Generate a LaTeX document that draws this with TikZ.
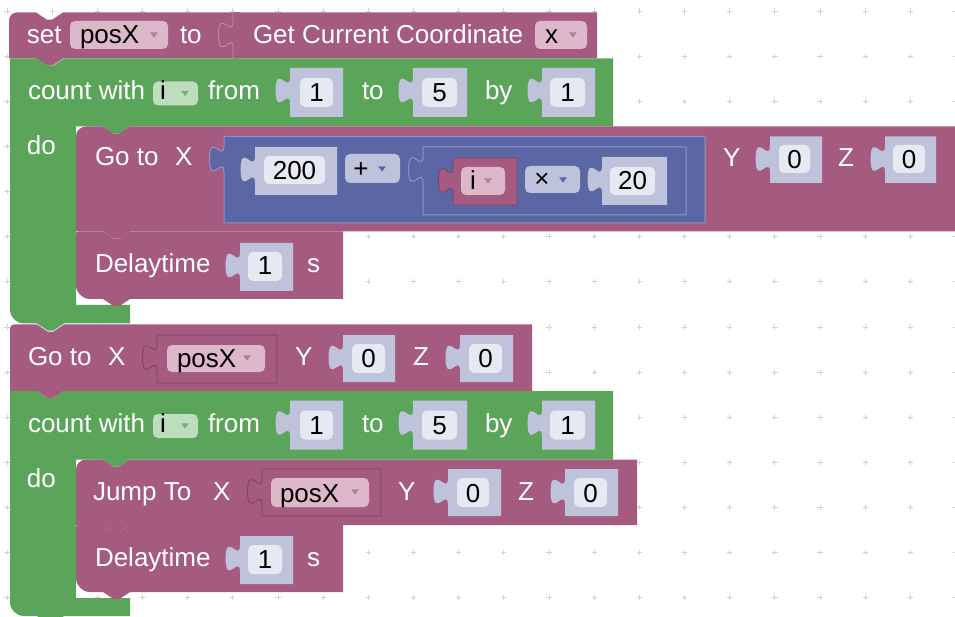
\documentclass[tikz,border=0pt]{standalone}
\usepackage{fontspec}
\setmainfont{Liberation Sans}
\usetikzlibrary{calc}

\definecolor{maroon}{HTML}{A55B80}
\definecolor{maroonhi}{HTML}{C58CA8}
\definecolor{maroondk}{HTML}{7F3F60}
\definecolor{loopgreen}{HTML}{5BA55B}
\definecolor{greenfield}{HTML}{BEDCBE}
\definecolor{mathblue}{HTML}{5B67A5}
\definecolor{bluehi}{HTML}{8C95C8}
\definecolor{slate}{HTML}{BEC2DB}
\definecolor{fieldwhite}{HTML}{E7E9F2}
\definecolor{pinkfield}{HTML}{DDB8CA}
\definecolor{pinkarrow}{HTML}{B7799A}
\definecolor{greenarrow}{HTML}{6FB46F}
\definecolor{gridc}{HTML}{D2D2D2}

\newcommand\bkfont{\fontsize{26}{30}\selectfont}

% statement block: left, top, right, bottom, top-left radius, bottom-left radius, fill
\newcommand\bkStmt[7]{%
  \fill[#7] (#1,{#2+#5}) .. controls (#1,{#2+0.45*#5}) and ({#1+0.45*#5},#2) .. ({#1+#5},#2)
    -- ({#1+27},#2) -- ({#1+37.8},{#2+7.2}) -- ({#1+43.2},{#2+7.2}) -- ({#1+54},#2)
    -- (#3,#2) -- (#3,#4) -- ({#1+54},#4) -- ({#1+43.2},{#4+7.2}) -- ({#1+37.8},{#4+7.2})
    -- ({#1+27},#4) -- ({#1+#6},#4) .. controls ({#1+0.45*#6},#4) and (#1,{#4-0.45*#6}) .. (#1,{#4-#6}) -- cycle;}

% value block with puzzle tab on the left: left, top, right, bottom, style
\newcommand\bkTab[5]{%
  \path[#5] (#1,#2) -- (#3,#2) -- (#3,#4) -- (#1,#4) -- (#1,{#2+36})
    .. controls (#1,{#2+18}) and ({#1-14.4},{#2+50.4}) .. ({#1-14.4},{#2+22.5})
    .. controls ({#1-14.4},{#2-5.4}) and (#1,{#2+27}) .. (#1,{#2+9}) -- cycle;}

% left edge of a value block only (tab outline): left, top, bottom, style
\newcommand\bkTabEdge[4]{%
  \draw[#4] (#1,#3) -- (#1,{#2+36})
    .. controls (#1,{#2+18}) and ({#1-14.4},{#2+50.4}) .. ({#1-14.4},{#2+22.5})
    .. controls ({#1-14.4},{#2-5.4}) and (#1,{#2+27}) .. (#1,{#2+9}) -- (#1,#2);}

% C-shaped loop block: top, header bottom, arm top, bottom, fill
\newcommand\bkLoop[5]{%
  \fill[#5] (10,#1) -- (37,#1) -- (47.8,{#1+7.2}) -- (53.2,{#1+7.2}) -- (64,#1) -- (613,#1)
    -- (613,#2) -- (130,#2) -- (119.2,{#2+7.2}) -- (113.8,{#2+7.2}) -- (103,#2) -- (76,#2)
    -- (76,#3) -- (130,#3) -- (130,#4) -- (64,#4) -- (53.2,{#4+7.2}) -- (47.8,{#4+7.2})
    -- (37,#4) -- (24,#4) .. controls (16.3,#4) and (10,{#4-6.3}) .. (10,{#4-14}) -- cycle;}

% rounded field: x1, y1, x2, y2, fill
\newcommand\bkField[5]{\fill[#5, rounded corners=5pt] (#1,#2) rectangle (#3,#4);}

% dropdown arrow: centre x, centre y, colour
\newcommand\bkArrow[3]{\fill[#3] ({#1-3.8},{#2-2.6}) -- ({#1+3.8},{#2-2.6}) -- (#1,{#2+2.6}) -- cycle;}

\begin{document}
\begin{tikzpicture}[x=1pt, y=-1pt,
  every node/.style={font=\bkfont, inner sep=0pt, outer sep=0pt},
  lbl/.style={anchor=base west, text=white},
  val/.style={anchor=base, text=black},
  valw/.style={anchor=base west, text=black}]

\useasboundingbox (0,0) rectangle (955,617);
\fill[white] (0,0) rectangle (955,617);
\clip (0,0) rectangle (955,617);

% workspace grid
\foreach \i in {0,...,21}
  \foreach \j in {0,...,13}
    \draw[gridc, line width=0.9pt] ({7+45.17*\i-2.6},{11+45.14*\j}) -- ++(5.2,0)
      ({7+45.17*\i},{11+45.14*\j-2.6}) -- ++(0,5.2);

% ---------- block outlines, top to bottom ----------
\bkStmt{9}{12.5}{240}{58.5}{8}{0}{maroon}
\bkTab{233}{12.5}{597}{58.5}{fill=maroon}
\bkTabEdge{233}{12.5}{58.5}{maroonhi, line width=0.8pt}

\bkLoop{58.5}{126.5}{305}{323.5}{loopgreen}
\bkStmt{76}{126.5}{975}{231.5}{10}{0}{maroon}
\bkStmt{76}{231.5}{343}{299}{2}{14}{maroon}

\bkStmt{10}{324.5}{532}{391}{4}{0}{maroon}
\bkLoop{391}{459.5}{598}{616}{loopgreen}
\bkStmt{76}{459.5}{637}{525}{10}{0}{maroon}
\bkStmt{76}{525}{343}{592}{2}{14}{maroon}

% ---------- set posX to Get Current Coordinate x ----------
\node[lbl] (setlbl) at (27,43.5) {set};
\bkField{70}{21}{168}{49}{pinkfield}
\node[valw] (setvar) at (80,44) {posX};
\bkArrow{154}{35}{pinkarrow}
\node[lbl] (setto) at (180,43.5) {to};
\node[lbl] (getlbl) at (253,43.5) {Get Current Coordinate};
\bkField{535}{21}{587}{49}{pinkfield}
\node[valw] (getaxis) at (545,44) {x};
\bkArrow{573}{35}{pinkarrow}

% ---------- first count loop header ----------
\node[lbl] (c1lbl) at (28,100) {count with};
\bkField{153}{81.5}{198}{105.5}{greenfield}
\node[valw] (c1var) at (160,100) {i};
\bkArrow{185}{93.5}{greenarrow}
\node[lbl] (c1from) at (208,100) {from};
\bkTab{290}{68}{343}{117}{fill=slate}
\bkField{300}{78}{333}{107}{fieldwhite}
\node[val] (c1a) at (316.5,102) {1};
\node[lbl] (c1to) at (362,100) {to};
\bkTab{413}{68}{467}{117}{fill=slate}
\bkField{422}{78}{457}{107}{fieldwhite}
\node[val] (c1b) at (439.5,102) {5};
\node[lbl] (c1by) at (485,100) {by};
\bkTab{542}{68}{595}{117}{fill=slate}
\bkField{550}{78}{585}{107}{fieldwhite}
\node[val] (c1c) at (567.5,102) {1};
\node[lbl] (c1do) at (27,155) {do};

% ---------- Go to X (200 + i x 20) Y 0 Z 0 ----------
\node[lbl] (g1lbl) at (95,165.5) {Go to};
\node[lbl] (g1x) at (175,165.5) {X};
\bkTab{224}{136.5}{705}{223}{fill=mathblue, draw=bluehi, line width=1pt}
\bkTab{255}{147}{337}{195}{fill=slate}
\bkField{264}{156}{325}{184}{fieldwhite}
\node[val] (n200) at (294.5,179.5) {200};
\bkField{345}{154}{400}{183}{slate}
\node[val] (plus) at (361,178) {+};
\bkArrow{382}{169}{mathblue}
\bkTab{423}{147}{686}{215}{fill=mathblue, draw=bluehi, line width=1pt}
\bkTab{453}{158}{517}{205}{fill=maroon, draw=maroondk, line width=0.8pt}
\bkField{461}{167}{505}{195}{pinkfield}
\node[valw] (mvar) at (470,190) {i};
\bkArrow{488}{181}{pinkarrow}
\bkField{525}{166}{580}{193}{slate}
\node[val] (times) at (542,188) {×};
\bkArrow{563}{180}{mathblue}
\bkTab{602}{157}{667}{205}{fill=slate}
\bkField{610}{167}{655}{195}{fieldwhite}
\node[val] (n20) at (632.5,190) {20};
\node[lbl] (g1y) at (723,166.5) {Y};
\bkTab{770}{136.5}{822}{183}{fill=slate}
\bkField{779}{145}{810}{173}{fieldwhite}
\node[val] (g1yv) at (794.5,169) {0};
\node[lbl] (g1z) at (838,166.5) {Z};
\bkTab{885}{136.5}{936}{183}{fill=slate}
\bkField{893}{145}{925}{173}{fieldwhite}
\node[val] (g1zv) at (909,169) {0};

% ---------- Delaytime 1 s ----------
\node[lbl] (d1lbl) at (95,273) {Delaytime};
\bkTab{240}{243}{293}{291}{fill=slate}
\bkField{248}{252}{282}{281}{fieldwhite}
\node[val] (d1v) at (265,275) {1};
\node[lbl] (d1s) at (307,273) {s};

% ---------- Go to X posX Y 0 Z 0 ----------
\node[lbl] (g2lbl) at (28,365) {Go to};
\node[lbl] (g2x) at (108,365) {X};
\bkTab{157}{335}{277}{383}{fill=maroon, draw=maroondk, line width=0.8pt}
\bkField{167}{345}{265}{372}{pinkfield}
\node[valw] (g2var) at (177,367) {posX};
\bkArrow{247}{358}{pinkarrow}
\node[lbl] (g2y) at (295,365) {Y};
\bkTab{343}{335}{395}{382}{fill=slate}
\bkField{352}{344}{385}{373}{fieldwhite}
\node[val] (g2yv) at (368.5,367) {0};
\node[lbl] (g2z) at (413,365) {Z};
\bkTab{460}{335}{513}{382}{fill=slate}
\bkField{469}{344}{502}{373}{fieldwhite}
\node[val] (g2zv) at (485.5,367) {0};

% ---------- second count loop header ----------
\node[lbl] (c2lbl) at (28,432.5) {count with};
\bkField{153}{414}{198}{438}{greenfield}
\node[valw] (c2var) at (160,432.5) {i};
\bkArrow{185}{426}{greenarrow}
\node[lbl] (c2from) at (208,432.5) {from};
\bkTab{290}{400.5}{343}{449.5}{fill=slate}
\bkField{300}{410.5}{333}{439.5}{fieldwhite}
\node[val] (c2a) at (316.5,434.5) {1};
\node[lbl] (c2to) at (362,432.5) {to};
\bkTab{413}{400.5}{467}{449.5}{fill=slate}
\bkField{422}{410.5}{457}{439.5}{fieldwhite}
\node[val] (c2b) at (439.5,434.5) {5};
\node[lbl] (c2by) at (485,432.5) {by};
\bkTab{542}{400.5}{595}{449.5}{fill=slate}
\bkField{550}{410.5}{585}{439.5}{fieldwhite}
\node[val] (c2c) at (567.5,434.5) {1};
\node[lbl] (c2do) at (27,487.5) {do};

% ---------- Jump To X posX Y 0 Z 0 ----------
\node[lbl] (jlbl) at (93,500) {Jump To};
\node[lbl] (jx) at (213,500) {X};
\bkTab{262}{469}{381}{516}{fill=maroon, draw=maroondk, line width=0.8pt}
\bkField{271}{478}{369}{507}{pinkfield}
\node[valw] (jvar) at (280,502) {posX};
\bkArrow{355}{492}{pinkarrow}
\node[lbl] (jy) at (398,500) {Y};
\bkTab{448}{469}{501}{516}{fill=slate}
\bkField{457}{478}{489}{507}{fieldwhite}
\node[val] (jyv) at (473,502) {0};
\node[lbl] (jz) at (518,500) {Z};
\bkTab{565}{469}{618}{516}{fill=slate}
\bkField{574}{478}{607}{507}{fieldwhite}
\node[val] (jzv) at (590.5,502) {0};

% ---------- Delaytime 1 s ----------
\node[lbl] (d2lbl) at (95,566) {Delaytime};
\bkTab{240}{536}{293}{584}{fill=slate}
\bkField{248}{545}{282}{574}{fieldwhite}
\node[val] (d2v) at (265,568) {1};
\node[lbl] (d2s) at (307,566) {s};

\end{tikzpicture}
\end{document}
